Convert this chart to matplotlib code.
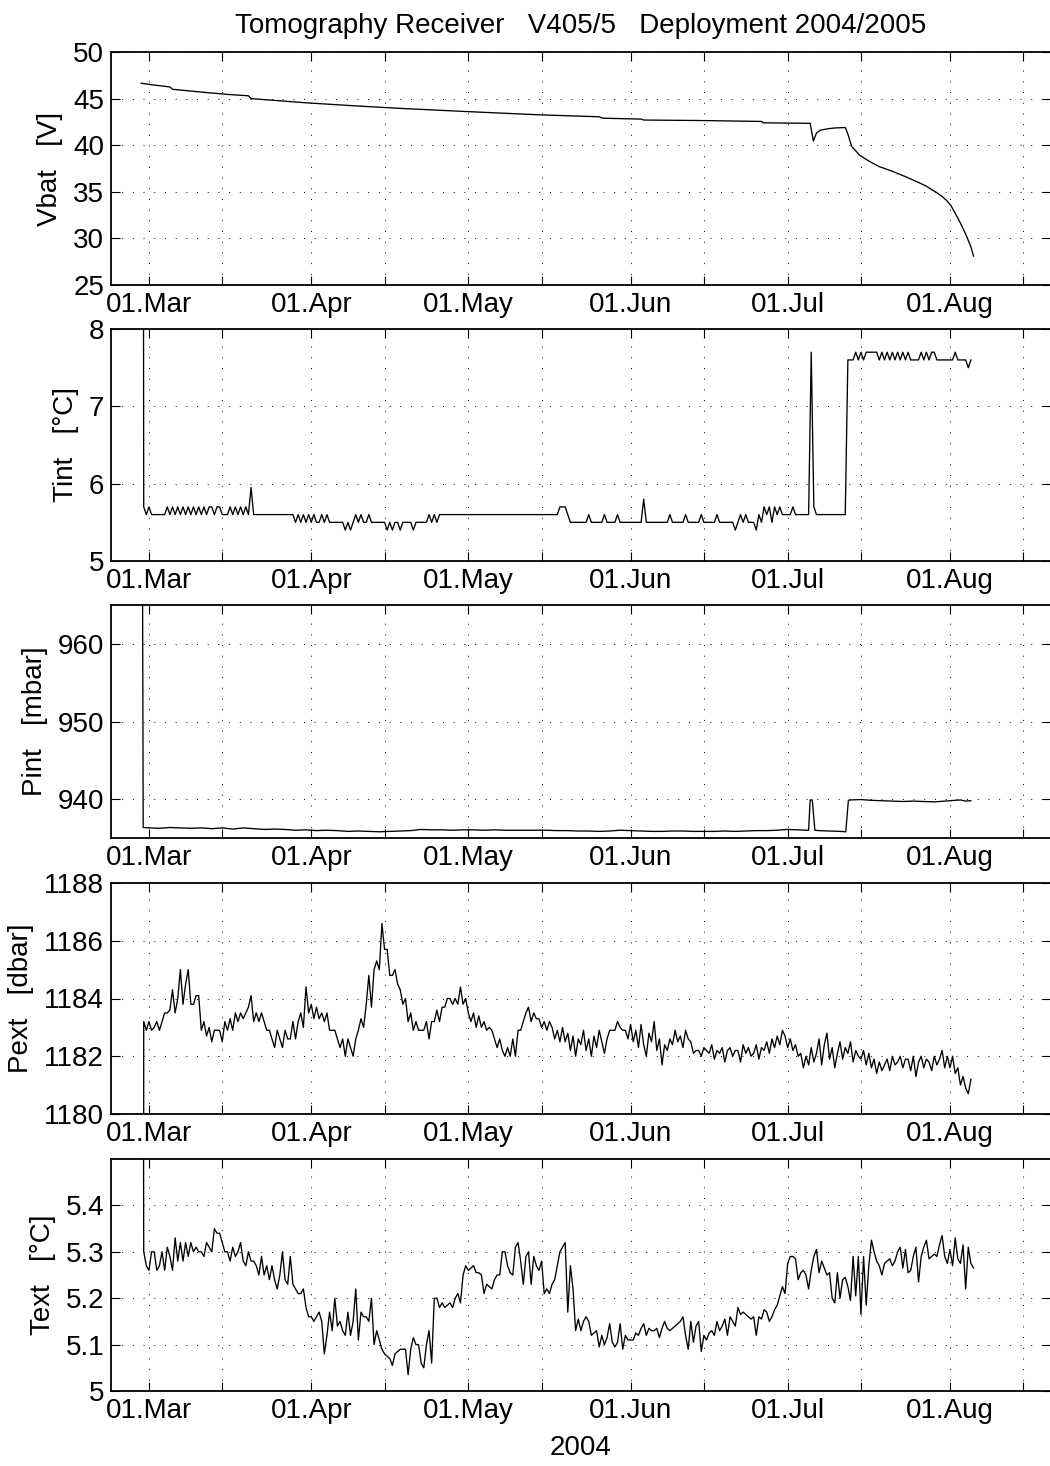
import numpy as np
import pandas as pd
import matplotlib
matplotlib.use('Agg')
import matplotlib.pyplot as plt
import matplotlib.dates as mdates
from matplotlib.ticker import FuncFormatter

plt.rcParams['font.family'] = ['Liberation Sans', 'DejaVu Sans']
plt.rcParams['font.size'] = 20

# time axis: days relative to 01.Mar.2004
T0 = pd.Timestamp('2004-03-01')
STEP = 0.5          # sampling of Tint / Pext / Text in days
DAY_START = -1.0    # first regular sample (28.Feb)

# ---------------- battery voltage [V] ----------------
vbat_days = [-1.5, 1, 4.0, 4.5, 10, 15, 19, 19.5, 30, 40, 48, 61, 75, 86, 86.6,
             94, 94.5, 105, 117, 117.3, 126.3, 126.9, 127.5, 128.2, 129.5, 131,
             133.0, 133.5, 134.2, 135.7, 137.5, 139.5, 142, 144.6, 147, 148.5,
             149.6, 150.5, 151.5, 152.4, 153.2, 154.3, 155.3, 156.2, 157.0, 157.5]
vbat = [46.65, 46.45, 46.25, 46.0, 45.7, 45.45, 45.3, 45.0, 44.55, 44.2, 43.95,
        43.6, 43.25, 43.05, 42.9, 42.8, 42.7, 42.65, 42.55, 42.4, 42.35, 40.45,
        41.3, 41.6, 41.75, 41.85, 41.9, 41.2, 39.9, 38.95, 38.3, 37.7, 37.2,
        36.6, 36.0, 35.6, 35.2, 34.9, 34.5, 34.05, 33.5, 32.4, 31.3, 30.2,
        29.1, 28.1]

# ---------------- internal temperature [degC] ----------------
tint_deck = (-1.1, 12.0)
tint = [
    5.7, 5.6, 5.7, 5.6, 5.6, 5.6, 5.6, 5.6, 5.6, 5.7, 5.6, 5.7, 5.6, 5.7, 5.6, 5.7, 5.6, 5.7, 5.6, 5.7,
    5.6, 5.7, 5.6, 5.7, 5.6, 5.7, 5.7, 5.6, 5.7, 5.7, 5.6, 5.6, 5.6, 5.7, 5.6, 5.7, 5.6, 5.7, 5.6, 5.7,
    5.6, 5.95, 5.6, 5.6, 5.6, 5.6, 5.6, 5.6, 5.6, 5.6, 5.6, 5.6, 5.6, 5.6, 5.6, 5.6, 5.6, 5.6, 5.5, 5.6,
    5.5, 5.6, 5.5, 5.6, 5.5, 5.6, 5.5, 5.5, 5.6, 5.5, 5.6, 5.5, 5.5, 5.5, 5.5, 5.5, 5.5, 5.4, 5.5, 5.4,
    5.5, 5.6, 5.5, 5.6, 5.5, 5.5, 5.6, 5.5, 5.5, 5.5, 5.5, 5.5, 5.5, 5.4, 5.5, 5.4, 5.5, 5.5, 5.4, 5.5,
    5.5, 5.5, 5.5, 5.4, 5.5, 5.5, 5.5, 5.5, 5.5, 5.6, 5.5, 5.6, 5.5, 5.6, 5.6, 5.6, 5.6, 5.6, 5.6, 5.6,
    5.6, 5.6, 5.6, 5.6, 5.6, 5.6, 5.6, 5.6, 5.6, 5.6, 5.6, 5.6, 5.6, 5.6, 5.6, 5.6, 5.6, 5.6, 5.6, 5.6,
    5.6, 5.6, 5.6, 5.6, 5.6, 5.6, 5.6, 5.6, 5.6, 5.6, 5.6, 5.6, 5.6, 5.6, 5.6, 5.6, 5.6, 5.6, 5.6, 5.7,
    5.7, 5.7, 5.6, 5.5, 5.5, 5.5, 5.5, 5.5, 5.5, 5.5, 5.6, 5.5, 5.5, 5.5, 5.5, 5.5, 5.6, 5.5, 5.5, 5.5,
    5.5, 5.6, 5.5, 5.5, 5.5, 5.5, 5.5, 5.5, 5.5, 5.5, 5.5, 5.8, 5.5, 5.5, 5.5, 5.5, 5.5, 5.5, 5.5, 5.5,
    5.5, 5.6, 5.5, 5.5, 5.5, 5.5, 5.5, 5.6, 5.5, 5.5, 5.5, 5.5, 5.5, 5.6, 5.5, 5.5, 5.5, 5.5, 5.5, 5.6,
    5.5, 5.5, 5.5, 5.5, 5.5, 5.5, 5.4, 5.5, 5.6, 5.5, 5.6, 5.5, 5.5, 5.5, 5.4, 5.6, 5.5, 5.7, 5.6, 5.7,
    5.5, 5.7, 5.6, 5.7, 5.6, 5.6, 5.6, 5.6, 5.7, 5.6, 5.6, 5.6, 5.6, 5.6, 5.6, 7.7, 5.7, 5.6, 5.6, 5.6,
    5.6, 5.6, 5.6, 5.6, 5.6, 5.6, 5.6, 5.6, 5.6, 7.6, 7.6, 7.6, 7.7, 7.6, 7.7, 7.6, 7.7, 7.7, 7.7, 7.7,
    7.7, 7.6, 7.7, 7.6, 7.7, 7.6, 7.7, 7.6, 7.7, 7.6, 7.7, 7.6, 7.7, 7.6, 7.6, 7.6, 7.6, 7.7, 7.6, 7.7,
    7.6, 7.7, 7.7, 7.6, 7.6, 7.6, 7.6, 7.6, 7.6, 7.6, 7.7, 7.6, 7.6, 7.6, 7.6, 7.5, 7.6,
]

# ---------------- internal pressure [mbar] ----------------
pint_days = [-1.4, -1.1, 0, 2, 4, 6, 8, 10, 12, 14, 16, 18, 20, 22, 24, 26, 28, 30,
             32, 34, 36, 38, 40, 42, 44, 46, 48, 50, 52, 54, 56, 58, 60, 62, 64, 66,
             68, 70, 72, 74, 76, 78, 80, 82, 84, 86, 88, 90, 92, 94, 96, 98, 100,
             102, 104, 106, 108, 110, 112, 114, 116, 118, 120, 122, 124, 125.5,
             126.0, 126.3, 126.7, 127.2, 128, 130, 132, 133.1, 133.6, 134, 136, 138,
             140, 142, 144, 146, 148, 150, 151, 152, 153, 154, 155, 156, 157]
pint = [1013.0, 936.35, 936.3, 936.25, 936.35, 936.3, 936.25, 936.3, 936.2, 936.3,
        936.15, 936.3, 936.2, 936.1, 936.15, 936.1, 936.0, 936.05, 935.95, 936.0,
        935.95, 935.85, 935.9, 935.85, 935.8, 935.85, 935.9, 935.95, 936.1, 936.05,
        936.05, 936.0, 936.05, 936.05, 936.0, 936.05, 936.0, 936.0, 936.0, 936.0,
        936.0, 935.95, 935.95, 935.9, 935.9, 935.85, 935.9, 936.0, 935.95, 935.9,
        935.85, 935.85, 935.9, 935.9, 935.85, 935.85, 935.85, 935.9, 935.85, 935.9,
        935.95, 935.95, 936.0, 936.1, 936.05, 936.0, 936.0, 939.9, 939.9, 936.0,
        935.95, 935.9, 935.85, 935.8, 939.85, 939.9, 939.95, 939.85, 939.8, 939.75,
        939.7, 939.75, 939.7, 939.65, 939.7, 939.75, 939.8, 939.85, 939.9, 939.75,
        939.8]

# ---------------- external pressure [dbar] ----------------
pext_deck = (-1.1, 1100.0)
pext = [
    1183.2, 1182.9, 1183.2, 1182.9, 1183.0, 1183.2, 1182.9, 1183.2, 1183.5, 1183.5,
    1183.6, 1184.3, 1183.5, 1184.0, 1185.0, 1183.8, 1184.5, 1185.0, 1183.8, 1183.8,
    1184.1, 1184.1, 1182.9, 1183.2, 1182.7, 1183.0, 1182.5, 1182.9, 1182.9, 1182.9,
    1182.5, 1183.2, 1182.9, 1183.3, 1182.9, 1183.5, 1183.2, 1183.5, 1183.3, 1183.5,
    1183.7, 1184.1, 1183.2, 1183.5, 1183.2, 1183.5, 1183.2, 1182.9, 1182.9, 1182.6,
    1182.3, 1182.9, 1182.6, 1182.3, 1182.9, 1182.6, 1182.6, 1183.2, 1182.6, 1183.2,
    1183.5, 1183.0, 1184.4, 1183.5, 1183.8, 1183.3, 1183.7, 1183.3, 1183.5, 1183.2,
    1183.5, 1182.9, 1182.9, 1182.9, 1182.6, 1182.3, 1182.6, 1182.0, 1182.6, 1182.3,
    1182.0, 1182.6, 1182.9, 1183.3, 1183.0, 1183.8, 1184.8, 1183.7, 1185.0, 1185.3,
    1185.0, 1186.6, 1185.7, 1185.7, 1184.8, 1184.8, 1185.0, 1184.5, 1184.3, 1183.8,
    1184.0, 1183.2, 1183.5, 1182.9, 1183.2, 1182.9, 1182.9, 1182.9, 1183.2, 1182.6,
    1183.2, 1183.2, 1183.6, 1183.2, 1183.7, 1183.7, 1184.0, 1184.0, 1183.8, 1184.0,
    1183.8, 1184.4, 1183.8, 1184.0, 1183.5, 1183.2, 1183.5, 1183.0, 1183.4, 1183.0,
    1183.2, 1182.9, 1183.0, 1182.9, 1182.6, 1182.3, 1182.6, 1182.2, 1182.0, 1182.3,
    1182.0, 1182.6, 1182.0, 1182.9, 1182.9, 1183.2, 1183.5, 1183.7, 1183.2, 1183.5,
    1183.3, 1183.3, 1183.0, 1183.2, 1182.9, 1183.2, 1183.0, 1182.6, 1182.9, 1182.5,
    1183.0, 1182.5, 1182.8, 1182.2, 1182.7, 1182.0, 1182.6, 1182.4, 1182.9, 1182.2,
    1182.6, 1182.0, 1182.7, 1182.3, 1182.9, 1182.5, 1182.1, 1182.6, 1182.9, 1182.9,
    1182.9, 1183.2, 1183.0, 1182.9, 1182.9, 1182.6, 1183.1, 1182.5, 1182.9, 1182.3,
    1183.1, 1182.4, 1182.0, 1182.8, 1182.5, 1183.2, 1182.2, 1182.6, 1181.7, 1182.4,
    1182.2, 1182.6, 1182.4, 1182.9, 1182.5, 1182.7, 1182.3, 1182.9, 1182.6, 1182.5,
    1182.1, 1182.2, 1182.2, 1182.0, 1182.3, 1182.2, 1182.1, 1182.4, 1181.9, 1182.2,
    1182.1, 1182.3, 1181.8, 1182.2, 1182.3, 1182.0, 1182.2, 1182.2, 1181.8, 1182.4,
    1182.1, 1182.3, 1182.0, 1182.1, 1182.4, 1181.9, 1182.3, 1182.2, 1182.5, 1182.1,
    1182.6, 1182.3, 1182.7, 1182.4, 1182.9, 1182.7, 1182.3, 1182.6, 1182.2, 1182.4,
    1182.0, 1182.1, 1181.6, 1182.0, 1181.7, 1182.3, 1181.8, 1182.1, 1182.6, 1181.7,
    1182.4, 1182.8, 1181.9, 1182.3, 1181.6, 1182.1, 1182.5, 1181.9, 1182.3, 1182.1,
    1182.5, 1181.8, 1182.2, 1182.0, 1181.9, 1182.2, 1181.7, 1182.1, 1181.6, 1181.9,
    1181.4, 1181.8, 1181.5, 1181.7, 1181.9, 1181.5, 1182.0, 1181.7, 1181.8, 1182.0,
    1181.6, 1181.9, 1181.9, 1181.5, 1182.0, 1181.3, 1181.8, 1182.0, 1181.6, 1181.9,
    1181.8, 1181.5, 1182.0, 1181.7, 1181.9, 1182.2, 1181.6, 1182.0, 1181.6, 1182.0,
    1181.4, 1181.6, 1181.0, 1181.3, 1180.9, 1180.7, 1181.2,
]

# ---------------- external temperature [degC] ----------------
text_deck = (-1.1, 6.0)
text = [
    5.30, 5.27, 5.26, 5.30, 5.30, 5.26, 5.27, 5.30, 5.26, 5.31, 5.29, 5.26, 5.33, 5.28, 5.32, 5.28, 5.32, 5.29, 5.32, 5.30,
    5.31, 5.30, 5.30, 5.29, 5.32, 5.31, 5.30, 5.35, 5.34, 5.34, 5.32, 5.30, 5.30, 5.28, 5.31, 5.29, 5.30, 5.32, 5.28, 5.27,
    5.30, 5.28, 5.28, 5.27, 5.25, 5.29, 5.25, 5.27, 5.24, 5.27, 5.24, 5.22, 5.25, 5.30, 5.24, 5.23, 5.29, 5.23, 5.22, 5.21,
    5.21, 5.22, 5.18, 5.16, 5.16, 5.15, 5.16, 5.17, 5.15, 5.08, 5.12, 5.17, 5.13, 5.20, 5.14, 5.15, 5.13, 5.12, 5.17, 5.12,
    5.15, 5.22, 5.11, 5.17, 5.16, 5.16, 5.15, 5.20, 5.10, 5.13, 5.11, 5.09, 5.08, 5.075, 5.07, 5.055, 5.08, 5.085, 5.09, 5.09,
    5.09, 5.035, 5.09, 5.115, 5.10, 5.10, 5.06, 5.05, 5.10, 5.13, 5.06, 5.20, 5.20, 5.18, 5.19, 5.18, 5.185, 5.19, 5.18, 5.20,
    5.21, 5.19, 5.25, 5.27, 5.26, 5.265, 5.27, 5.255, 5.255, 5.25, 5.21, 5.23, 5.225, 5.22, 5.24, 5.25, 5.25, 5.30, 5.30, 5.27,
    5.255, 5.25, 5.31, 5.32, 5.28, 5.23, 5.29, 5.30, 5.23, 5.29, 5.27, 5.26, 5.28, 5.21, 5.22, 5.21, 5.23, 5.24, 5.27, 5.30,
    5.31, 5.32, 5.17, 5.27, 5.22, 5.13, 5.155, 5.13, 5.15, 5.16, 5.15, 5.12, 5.125, 5.13, 5.095, 5.12, 5.10, 5.115, 5.145, 5.105,
    5.095, 5.105, 5.145, 5.09, 5.12, 5.11, 5.11, 5.11, 5.125, 5.12, 5.135, 5.145, 5.12, 5.135, 5.13, 5.13, 5.135, 5.115, 5.135, 5.15,
    5.135, 5.13, 5.135, 5.14, 5.145, 5.15, 5.16, 5.12, 5.09, 5.15, 5.105, 5.14, 5.15, 5.085, 5.12, 5.11, 5.125, 5.13, 5.12, 5.15,
    5.13, 5.14, 5.155, 5.12, 5.16, 5.15, 5.14, 5.18, 5.165, 5.17, 5.165, 5.16, 5.155, 5.16, 5.12, 5.16, 5.155, 5.175, 5.17, 5.15,
    5.16, 5.175, 5.185, 5.205, 5.225, 5.21, 5.275, 5.29, 5.29, 5.285, 5.24, 5.255, 5.26, 5.25, 5.22, 5.26, 5.29, 5.305, 5.255, 5.28,
    5.265, 5.25, 5.255, 5.20, 5.19, 5.255, 5.20, 5.24, 5.245, 5.225, 5.195, 5.29, 5.205, 5.29, 5.165, 5.29, 5.185, 5.27, 5.325, 5.30,
    5.28, 5.27, 5.25, 5.275, 5.28, 5.285, 5.27, 5.28, 5.30, 5.31, 5.265, 5.305, 5.255, 5.26, 5.29, 5.31, 5.235, 5.29, 5.31, 5.325,
    5.285, 5.29, 5.295, 5.29, 5.315, 5.335, 5.29, 5.275, 5.305, 5.27, 5.33, 5.285, 5.275, 5.315, 5.22, 5.31, 5.275, 5.265,
]

title = 'Tomography Receiver   V405/5   Deployment 2004/2005'
ylabels = ['Vbat   [V]', 'Tint   [°C]', 'Pint   [mbar]', 'Pext   [dbar]', 'Text   [°C]']
ylims = [(25, 50), (5, 8), (935, 965), (1180, 1188), (5, 5.5)]
yticks = [[25, 30, 35, 40, 45, 50], [5, 6, 7, 8], [940, 950, 960],
          [1180, 1182, 1184, 1186, 1188], [5, 5.1, 5.2, 5.3, 5.4]]


def to_time(days):
    return T0 + pd.to_timedelta(np.asarray(days, dtype=float), unit='D')


def regular(vals, deck=None):
    days = DAY_START + STEP * np.arange(len(vals))
    v = list(vals)
    if deck is not None:
        days = np.concatenate([[deck[0]], days])
        v = [deck[1]] + v
    return to_time(days), v


series = [
    (to_time(vbat_days), vbat),
    regular(tint, tint_deck),
    (to_time(pint_days), pint),
    regular(pext, pext_deck),
    regular(text, text_deck),
]

W, H = 1050, 1466
fig = plt.figure(figsize=(W / 100, H / 100), dpi=100)

# panel frames in pixels (top, bottom)
frames = [(52, 285), (329, 561), (605, 838), (883, 1114), (1159, 1391)]
left_px, right_px = 111, 1051
xlim = (to_time([-7.25])[0], to_time([172.3])[0])

for i, ((top, bot), (t, v)) in enumerate(zip(frames, series)):
    ax = fig.add_axes([left_px / W, 1 - bot / H, (right_px - left_px) / W, (bot - top) / H])
    ax.plot(t, v, color='k', lw=0.95, zorder=3)
    ax.set_xlim(*xlim)
    ax.set_ylim(*ylims[i])
    ax.set_yticks(yticks[i])
    ax.yaxis.set_major_formatter(FuncFormatter(lambda y, p: '%g' % y))
    ax.xaxis.set_major_locator(mdates.MonthLocator(bymonthday=1))
    ax.xaxis.set_minor_locator(mdates.DayLocator(bymonthday=15))
    ax.xaxis.set_major_formatter(mdates.DateFormatter('%d.%b'))
    ax.tick_params(which='both', direction='in', top=True, right=True,
                   length=6.5, width=0.8, labelsize=20)
    ax.tick_params(axis='y', pad=5)
    ax.tick_params(axis='x', pad=5)
    ax.grid(True, which='both', axis='x', color='k', lw=0.7, ls=(0, (1, 10)))
    ax.grid(True, which='major', axis='y', color='k', lw=0.7, ls=(0, (1, 10)))
    for s in ax.spines.values():
        s.set_linewidth(1.3)
    ax.set_ylabel(ylabels[i], fontsize=20, labelpad=7)
    if i == 0:
        ax.set_title(title, fontsize=20, pad=14)
    if i == len(frames) - 1:
        ax.set_xlabel('2004', fontsize=20, labelpad=8)

fig.savefig('out.png', dpi=100)
